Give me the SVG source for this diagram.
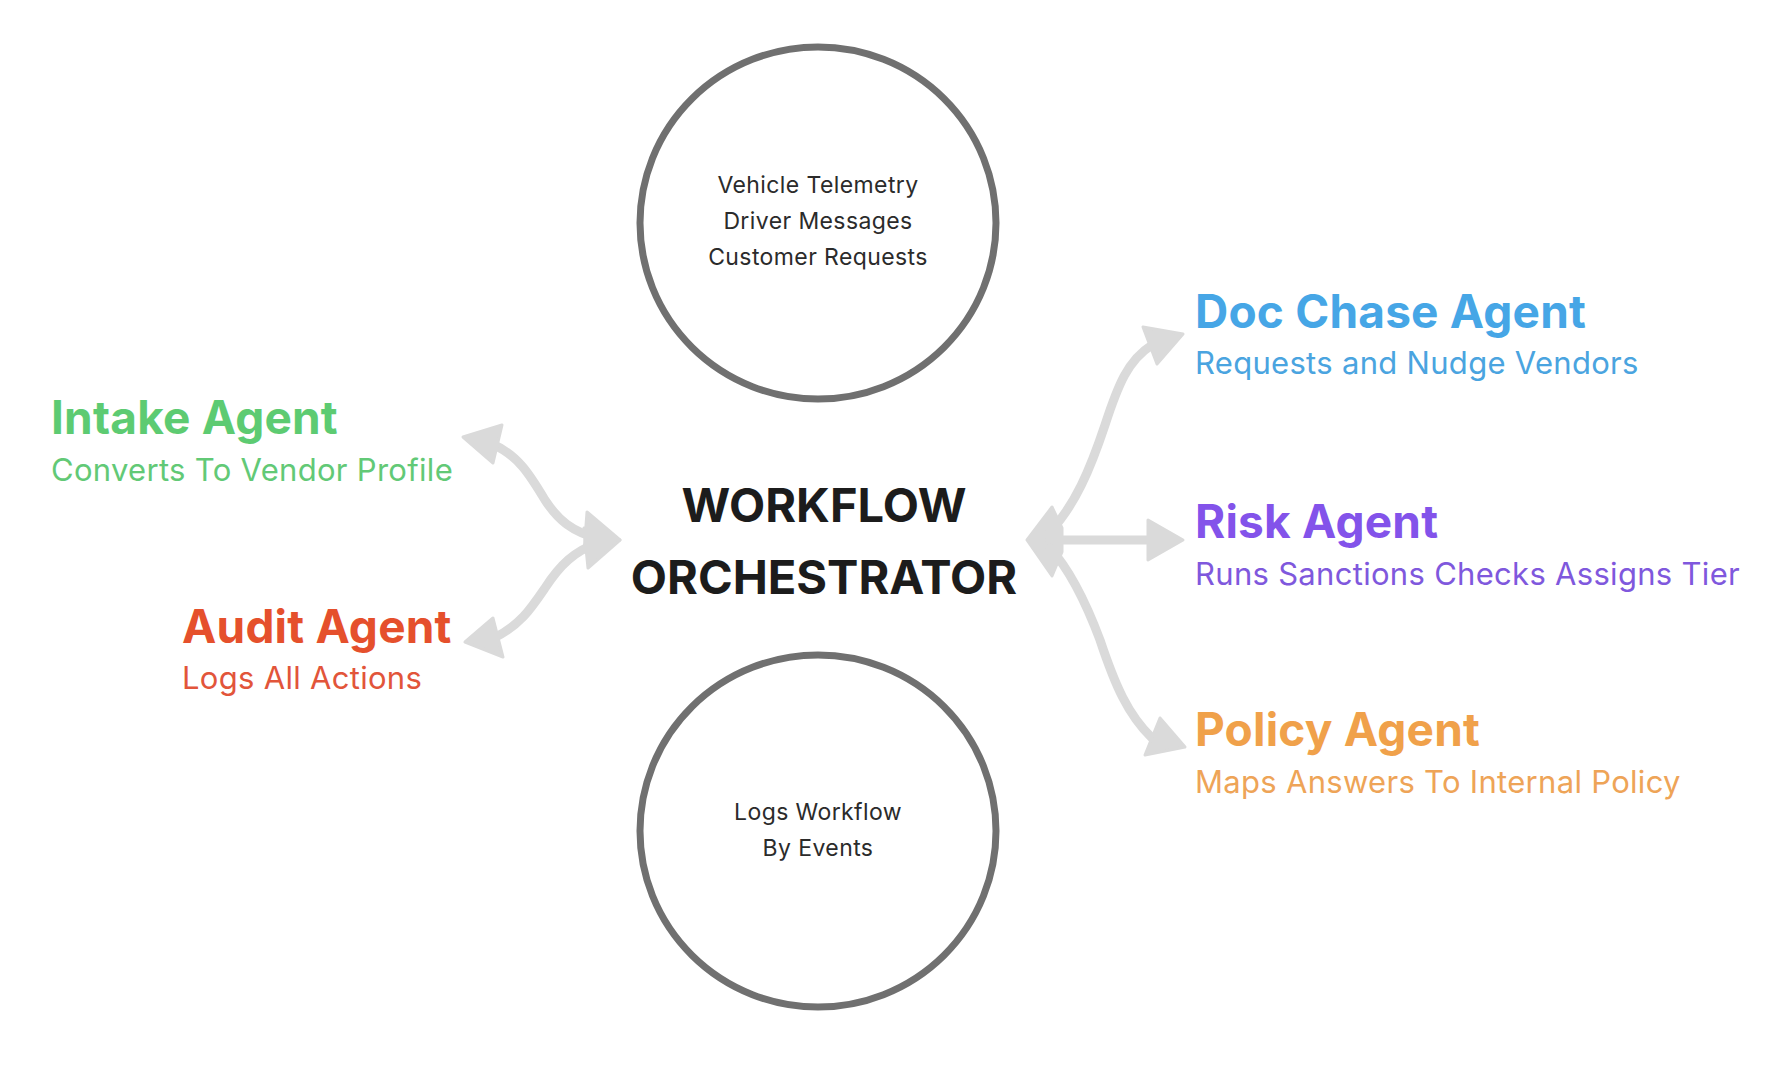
<svg xmlns="http://www.w3.org/2000/svg" width="1782" height="1088" viewBox="0 0 1782 1088">
<style>
  .circ{fill:#ffffff;stroke:#707070;stroke-width:7}
  .ctext{font-family:Inter,"Noto Sans","DejaVu Sans",sans-serif;font-size:23px;letter-spacing:0.4px;fill:#2b2b2b;text-anchor:middle}
  .main{font-family:Inter,"Noto Sans","DejaVu Sans",sans-serif;font-size:47px;font-weight:700;fill:#1c1c1c;text-anchor:middle}
  .title{font-family:Inter,"Noto Sans","DejaVu Sans",sans-serif;font-size:46px;font-weight:700;letter-spacing:0.2px}
  .sub{font-family:Inter,"Noto Sans","DejaVu Sans",sans-serif;font-size:31px;font-weight:400;letter-spacing:0.3px}
  .line{fill:none;stroke:#dadada;stroke-width:9;stroke-linecap:round}
  .head{fill:#dadada;stroke:#dadada;stroke-width:3;stroke-linejoin:round}
</style>
<rect width="1782" height="1088" fill="#ffffff"/>

<g id="connectors">
  <!-- Intake <-> Orchestrator -->
  <path class="line" d="M 492,444 C 518,455 530,475 545,500 C 558,520 572,532 600,539"/>
  <polygon class="head" points="463,437 502,425 493,463"/>
  <polygon class="head" points="620,540 587,512 584,552"/>
  <!-- Audit <-> Orchestrator -->
  <path class="line" d="M 494,638 C 520,625 530,610 545,588 C 560,565 574,551 600,542"/>
  <polygon class="head" points="465,642 493,618 503,657"/>
  <polygon class="head" points="620,540 584,528 588,568"/>
  <!-- Orchestrator junction -->
  <polygon class="head" points="1027,540 1052,507 1062,528 1062,552 1052,576"/>
  <!-- Doc Chase -->
  <path class="line" d="M 1050,532 C 1075,505 1090,470 1105,425 C 1118,385 1128,360 1152,345"/>
  <polygon class="head" points="1143,327 1183,334 1157,364"/>
  <!-- Risk -->
  <path class="line" d="M 1050,540 L 1155,540"/>
  <polygon class="head" points="1148,520 1183,540 1148,560"/>
  <!-- Policy -->
  <path class="line" d="M 1050,548 C 1070,570 1085,600 1100,640 C 1115,685 1128,715 1152,738"/>
  <polygon class="head" points="1160,718 1185,747 1145,755"/>
</g>

<g id="sources">
  <ellipse class="circ" cx="818" cy="223" rx="178" ry="176"/>
  <text class="ctext" x="818" y="193">Vehicle Telemetry</text>
  <text class="ctext" x="818" y="229">Driver Messages</text>
  <text class="ctext" x="818" y="265">Customer Requests</text>
</g>

<g id="event-log">
  <ellipse class="circ" cx="818" cy="831" rx="178" ry="176"/>
  <text class="ctext" x="818" y="820">Logs Workflow</text>
  <text class="ctext" x="818" y="856">By Events</text>
</g>

<g id="orchestrator">
  <text class="main" x="824" y="522">WORKFLOW</text>
  <text class="main" x="824" y="594">ORCHESTRATOR</text>
</g>

<g id="intake-agent">
  <text class="title" x="51" y="434" fill="#5dcb72">Intake Agent</text>
  <text class="sub" x="51" y="481" fill="#62c976">Converts To Vendor Profile</text>
</g>

<g id="audit-agent">
  <text class="title" x="182" y="643" fill="#e5502c">Audit Agent</text>
  <text class="sub" x="182" y="689" fill="#e2553a">Logs All Actions</text>
</g>

<g id="doc-chase-agent">
  <text class="title" x="1195" y="328" fill="#46a6e6">Doc Chase Agent</text>
  <text class="sub" x="1195" y="374" fill="#4aa4e0">Requests and Nudge Vendors</text>
</g>

<g id="risk-agent">
  <text class="title" x="1195" y="538" fill="#8353ea">Risk Agent</text>
  <text class="sub" x="1195" y="585" fill="#7f58dd">Runs Sanctions Checks Assigns Tier</text>
</g>

<g id="policy-agent">
  <text class="title" x="1195" y="746" fill="#f0a14a">Policy Agent</text>
  <text class="sub" x="1195" y="793" fill="#eea457">Maps Answers To Internal Policy</text>
</g>
</svg>
